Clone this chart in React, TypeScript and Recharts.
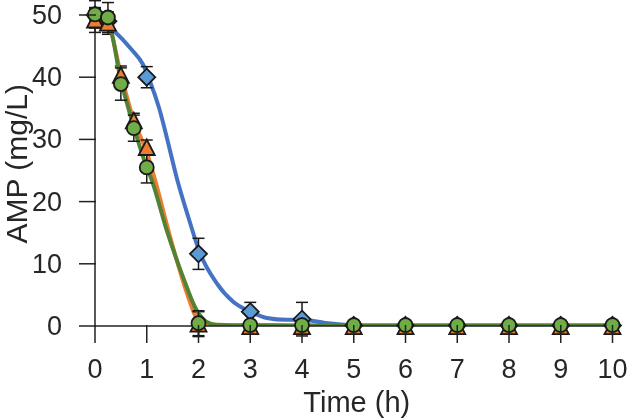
import React from "react";
import { ComposedChart, Line, Scatter, ErrorBar, XAxis, YAxis } from "recharts";

const xTicks = [0, 1, 2, 3, 4, 5, 6, 7, 8, 9, 10];
const yTicks = [0, 10, 20, 30, 40, 50];

const blueTimes = [0, 0.25, 1, 2, 3, 4, 5, 6, 7, 8, 9, 10];
const blueValues = [50, 49, 40, 11.6, 2.3, 1.1, 0.1, 0.1, 0.1, 0.1, 0.1, 0.1];
const blueErrors = [1, 1, 1.7, 2.5, 1.5, 2.7, 0.2, 0.2, 0.2, 0.2, 0.2, 0.2];

const sampleTimes = [0, 0.25, 0.5, 0.75, 1, 2, 3, 4, 5, 6, 7, 8, 9, 10];
const orangeValues = [49.2, 48.7, 40.3, 33, 28.7, 0.3, -0.1, -0.1, -0.1, -0.1, -0.1, -0.1, -0.1, -0.1];
const orangeErrors = [2, 1.8, 1.5, 1.2, 1.2, 2, 0.8, 0.9, 0.2, 0.2, 0.2, 0.2, 0.2, 0.2];
const greenValues = [50.1, 49.6, 38.9, 31.8, 25.5, 0.45, 0.15, 0.15, 0.15, 0.15, 0.15, 0.15, 0.15, 0.15];
const greenErrors = [2.2, 2.4, 2.6, 2.1, 2.5, 2, 0.5, 0.5, 0.2, 0.2, 0.2, 0.2, 0.2, 0.2];

const blueCurveT = [0, 0.35, 0.71, 0.93, 1.06, 1.24, 1.385, 1.58, 1.8, 2.03, 2.35, 2.67, 3, 3.32, 3.7, 4, 4.45, 5, 10];
const blueCurveV = [49.8, 47.6, 44.4, 42, 39.4, 35, 30.4, 23.8, 17.6, 11.7, 6.9, 3.9, 2.3, 1.3, 1, 1, 0.5, 0.1, 0.1];
const orangeCurveT = [0, 0.25, 0.5, 0.75, 1, 1.16, 1.45, 1.8, 1.96, 2.15, 2.4, 3, 4, 5, 10];
const orangeCurveV = [49.5, 48.5, 40.5, 33, 28, 23.5, 14.4, 4.7, 1.3, 0.3, 0, 0.2, 0.05, 0, 0];
const greenCurveT = [0, 0.25, 0.5, 0.75, 1, 1.095, 1.385, 1.7, 1.96, 2.15, 2.35, 3, 5, 10];
const greenCurveV = [50, 49, 39.5, 32, 25.5, 23.5, 15.4, 7.9, 2.6, 0.7, 0.2, 0.1, 0.1, 0.1];

const points = (times: number[], values: number[], errors: number[]) =>
  times.map((t, i) => ({ t, v: values[i], err: errors[i] }));
const curve = (ts: number[], vs: number[]) => ts.map((t, i) => ({ t, v: vs[i] }));

const AXIS = "#222222";
const FONT = "Liberation Sans, Arial, sans-serif";
const TEXT = "#262626";

const XTick = ({ x, y, payload }: any) => (
  <g>
    <line x1={x} x2={x} y1={y - 9} y2={y + 9} stroke={AXIS} strokeWidth={1.5} />
    <text x={x} y={y + 44} textAnchor="middle" fontFamily={FONT} fontSize={27} fill={TEXT}>
      {payload.value}
    </text>
  </g>
);

const YTick = ({ x, y, payload }: any) => (
  <g>
    <line x1={x - 8} x2={x + 9} y1={y} y2={y} stroke={AXIS} strokeWidth={1.5} />
    <text x={x - 25} y={y + 9} textAnchor="end" fontFamily={FONT} fontSize={27} fill={TEXT}>
      {payload.value}
    </text>
  </g>
);

const Diamond = ({ cx, cy }: any) => (
  <polygon
    points={`${cx},${cy - 8.5} ${cx + 8.5},${cy} ${cx},${cy + 8.5} ${cx - 8.5},${cy}`}
    fill="#5B9BD5"
    stroke="#1a1a1a"
    strokeWidth={1.8}
  />
);
const Triangle = ({ cx, cy }: any) => (
  <polygon
    points={`${cx},${cy - 8} ${cx + 8},${cy + 7.5} ${cx - 8},${cy + 7.5}`}
    fill="#ED7D31"
    stroke="#1a1a1a"
    strokeWidth={1.8}
  />
);
const Circle = ({ cx, cy }: any) => (
  <circle cx={cx} cy={cy} r={7} fill="#70AD47" stroke="#1a1a1a" strokeWidth={1.8} />
);

const errProps = { dataKey: "err", direction: "y" as const, width: 6, stroke: "#1a1a1a", strokeWidth: 1.5, isAnimationActive: false };

export default function App() {
  return (
    <div style={{ position: "absolute", left: 0, top: 0, width: 629, height: 420, filter: "blur(0.45px)" }}>
      <style>{`.recharts-wrapper svg g { clip-path: none !important; }`}</style>
      <ComposedChart width={629} height={420} margin={{ top: 15, right: 16.5, bottom: 44, left: 35 }}>
        <XAxis
          type="number"
          dataKey="t"
          domain={[0, 10]}
          allowDataOverflow
          ticks={xTicks}
          interval={0}
          height={50}
          stroke={AXIS}
          strokeWidth={1.5}
          tickLine={false}
          tick={<XTick />}
          label={{ value: "Time (h)", position: "insideBottom", offset: -36, dx: 3, fontFamily: FONT, fontSize: 29, fill: TEXT }}
        />
        <YAxis
          type="number"
          dataKey="v"
          domain={[0, 50]}
          allowDataOverflow
          ticks={yTicks}
          interval={0}
          width={60}
          stroke={AXIS}
          strokeWidth={1.5}
          tickLine={false}
          tick={<YTick />}
          label={{ value: "AMP (mg/L)", angle: -90, position: "insideLeft", offset: -19, dy: 73, fontFamily: FONT, fontSize: 30, fill: TEXT }}
        />
        <Line data={curve(blueCurveT, blueCurveV)} dataKey="v" type="monotone" stroke="#4472C4" strokeWidth={4} dot={false} isAnimationActive={false} />
        <Scatter data={points(blueTimes, blueValues, blueErrors)} dataKey="v" shape={<Diamond />} isAnimationActive={false}>
          <ErrorBar {...errProps} />
        </Scatter>
        <Line data={curve(orangeCurveT, orangeCurveV)} dataKey="v" type="monotone" stroke="#ED7D31" strokeWidth={4} dot={false} isAnimationActive={false} />
        <Scatter data={points(sampleTimes, orangeValues, orangeErrors)} dataKey="v" shape={<Triangle />} isAnimationActive={false}>
          <ErrorBar {...errProps} />
        </Scatter>
        <Line data={curve(greenCurveT, greenCurveV)} dataKey="v" type="monotone" stroke="#548235" strokeWidth={4} dot={false} isAnimationActive={false} />
        <Scatter data={points(sampleTimes, greenValues, greenErrors)} dataKey="v" shape={<Circle />} isAnimationActive={false}>
          <ErrorBar {...errProps} />
        </Scatter>
      </ComposedChart>
    </div>
  );
}
